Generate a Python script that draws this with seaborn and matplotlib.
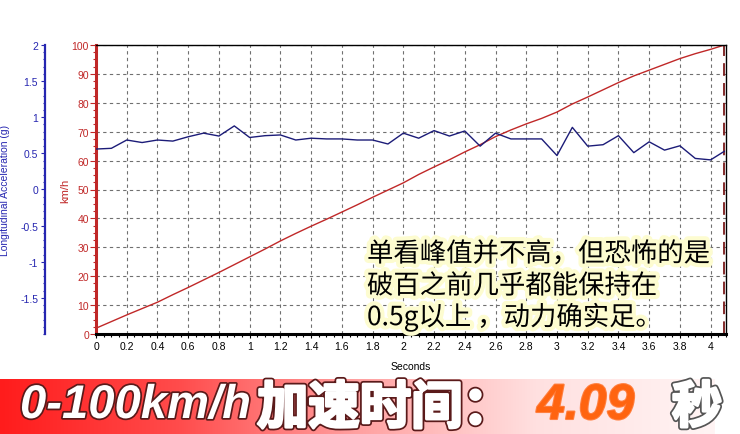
import numpy as np
import pandas as pd
import seaborn as sns
import matplotlib.pyplot as plt
import matplotlib.patheffects as pe
from matplotlib.ticker import MultipleLocator, FixedLocator
from matplotlib.colors import LinearSegmentedColormap

# data
seconds = [0.0, 0.1, 0.2, 0.3, 0.4, 0.5, 0.6, 0.7, 0.8, 0.9,
           1.0, 1.1, 1.2, 1.3, 1.4, 1.5, 1.6, 1.7, 1.8, 1.9,
           2.0, 2.1, 2.2, 2.3, 2.4, 2.5, 2.6, 2.7, 2.8, 2.9,
           3.0, 3.1, 3.2, 3.3, 3.4, 3.5, 3.6, 3.7, 3.8, 3.9,
           4.0, 4.09]
speed_kmh = [2.0, 4.3, 6.6, 8.8, 11.0, 13.6, 16.1, 18.7, 21.3, 24.0,
             26.7, 29.4, 32.2, 34.8, 37.3, 39.7, 42.2, 44.7, 47.3, 49.8,
             52.3, 55.2, 57.8, 60.3, 63.0, 65.5, 68.3, 70.6, 72.7, 74.6,
             76.8, 79.6, 82.0, 84.5, 87.0, 89.3, 91.3, 93.3, 95.3, 97.0,
             98.5, 100.0]
accel_g = [0.56, 0.57, 0.685, 0.65, 0.685, 0.67, 0.73, 0.78, 0.74, 0.88,
           0.72, 0.745, 0.755, 0.685, 0.71, 0.70, 0.70, 0.685, 0.685, 0.63,
           0.78, 0.71, 0.815, 0.74, 0.81, 0.60, 0.78, 0.70, 0.70, 0.70,
           0.47, 0.86, 0.60, 0.62, 0.745, 0.51, 0.66, 0.545, 0.605, 0.43,
           0.41, 0.53]
x_ticks = [0, 0.2, 0.4, 0.6, 0.8, 1, 1.2, 1.4, 1.6, 1.8, 2, 2.2, 2.4,
           2.6, 2.8, 3, 3.2, 3.4, 3.6, 3.8, 4]
speed_ticks = [0, 10, 20, 30, 40, 50, 60, 70, 80, 90, 100]
accel_ticks = [-1.5, -1, -0.5, 0, 0.5, 1, 1.5, 2]
finish_time = 4.09
note_lines = ["单看峰值并不高，但恐怖的是",
              "破百之前几乎都能保持在",
              "0.5g以上 ，动力确实足。"]
banner_parts = ["0-100km/h", "加速时间：", "4.09", "秒"]

df = pd.DataFrame({"t": seconds, "speed": speed_kmh, "acc": accel_g})

sns.set_theme(style="white")
plt.rcParams['font.family'] = ['Liberation Sans', 'Noto Sans CJK SC', 'DejaVu Sans']
plt.rcParams['axes.unicode_minus'] = False

red = "#c02828"
blue = "#2626b0"
W, H = 740, 435
L, R, T, B = 96, 726, 46, 335

fig = plt.figure(figsize=(W / 100, H / 100), dpi=100)
fig.patch.set_facecolor("white")
ax = fig.add_axes([L / W, 1 - B / H, (R - L) / W, (B - T) / H])
ax.set_facecolor("white")

sns.lineplot(data=df, x="t", y="speed", ax=ax, color=red, lw=1.0)
ax.axvline(finish_time, color="#7a1a1a", ls=(0, (7, 4)), lw=1.3)

ax.set_xlim(0, 4.1)
ax.set_ylim(0, 100)
ax.xaxis.set_major_locator(FixedLocator(x_ticks))
ax.xaxis.set_minor_locator(MultipleLocator(0.05))
ax.set_xticklabels([f"{v:g}" for v in x_ticks])
ax.yaxis.set_major_locator(FixedLocator(speed_ticks))
ax.yaxis.set_minor_locator(MultipleLocator(2.5))
ax.grid(True, which="major", color="#707070", ls=(0, (3, 3)), lw=0.8)
ax.tick_params(axis="x", which="both", direction="out", colors="black",
               labelsize=7.5, length=3, width=0.8, bottom=True, pad=2)
ax.tick_params(axis="x", which="minor", length=2)
ax.tick_params(axis="y", which="both", direction="out", colors=red,
               labelsize=7.5, length=4, width=0.8, left=True, pad=1)
ax.tick_params(axis="y", which="minor", length=2)
for s in ["top", "right"]:
    ax.spines[s].set_color("black")
    ax.spines[s].set_linewidth(1.0)
ax.spines["bottom"].set_color("black")
ax.spines["bottom"].set_linewidth(2.2)
ax.spines["left"].set_color(red)
ax.spines["left"].set_linewidth(2.2)
ax.set_xlabel("Seconds", fontsize=7.5, color="black")
ax.xaxis.set_label_coords(0.5, -(362 - B) / (B - T))
ax.set_ylabel("km/h", fontsize=8, color=red)
ax.yaxis.set_label_coords(-(L - 70) / (R - L), 0.5)

# acceleration axis, placed further left
ax2 = ax.twinx()
sns.lineplot(data=df, x="t", y="acc", ax=ax2, color="#1c1c78", lw=1.0)
ax2.set_ylim(-2, 2)
ax2.yaxis.tick_left()
ax2.yaxis.set_label_position("left")
ax2.spines["left"].set_position(("axes", -(L - 45) / (R - L)))
ax2.spines["left"].set_visible(True)
ax2.spines["left"].set_color(blue)
ax2.spines["left"].set_linewidth(1.6)
for s in ["right", "top", "bottom"]:
    ax2.spines[s].set_visible(False)
ax2.yaxis.set_major_locator(FixedLocator(accel_ticks))
ax2.set_yticklabels([f"{v:g}" for v in accel_ticks])
ax2.yaxis.set_minor_locator(MultipleLocator(0.1))
ax2.tick_params(axis="y", which="both", direction="out", colors=blue,
                labelsize=7.5, length=3, width=0.8, left=True, right=False, pad=2)
ax2.tick_params(axis="y", which="minor", length=1.5)
ax2.set_ylabel("Longitudinal Acceleration (g)", fontsize=7.5, color=blue)
ax2.yaxis.set_label_coords(-(L - 10) / (R - L), 0.5)
ax2.set_xlabel("")

# note with glow
glow = [pe.withStroke(linewidth=6, foreground="#fdfcd0")]
for i, line in enumerate(note_lines):
    yc = [255, 287, 318][i]
    ax2.text((367 - L) / (R - L), (B - yc) / (B - T), line,
             transform=ax.transAxes, fontsize=19, color="black",
             va="center", ha="left", zorder=10, path_effects=glow,
             family=["Noto Sans CJK SC", "DejaVu Sans"])

# banner
bax = fig.add_axes([0, 0, 715 / W, 55 / H])
cmap = LinearSegmentedColormap.from_list(
    "banner", ["#ff1c1c", "#ff4c4c", "#ffa0a0", "#ffe0e0", "#fff4f4"])
bax.imshow(np.linspace(0, 1, 256)[None, :], aspect="auto", cmap=cmap,
           extent=[0, 1, 0, 1])
bax.set_axis_off()

yb = (H - 407) / H
latin_fx = [pe.withStroke(linewidth=2.5, foreground="#5a1a1a")]
cjk_fx = [pe.withStroke(linewidth=4.5, foreground="#5a1a1a"),
          pe.withStroke(linewidth=2.0, foreground="white")]
fig.text(20 / W, yb, banner_parts[0], fontsize=34, color="white",
         weight="bold", style="italic", va="center", ha="left",
         family=["Liberation Sans", "DejaVu Sans"], path_effects=latin_fx)
fig.text(257 / W, yb - 0.005, banner_parts[1], fontsize=37, color="white",
         weight="heavy", va="center", ha="left",
         family=["Noto Sans CJK SC", "DejaVu Sans"], path_effects=cjk_fx)
fig.text(537 / W, yb, banner_parts[2], fontsize=36, color="#ff6410",
         weight="bold", style="italic", va="center", ha="left",
         family=["Liberation Sans", "DejaVu Sans"],
         path_effects=[pe.withStroke(linewidth=1.5, foreground="#ff8040")])
fig.text(672 / W, yb - 0.005, banner_parts[3], fontsize=36, color="white",
         weight="heavy", va="center", ha="left",
         family=["Noto Sans CJK SC", "DejaVu Sans"],
         path_effects=[pe.withStroke(linewidth=4.5, foreground="#555555"),
                       pe.withStroke(linewidth=2.0, foreground="white")])

fig.savefig("out.png", dpi=100)
